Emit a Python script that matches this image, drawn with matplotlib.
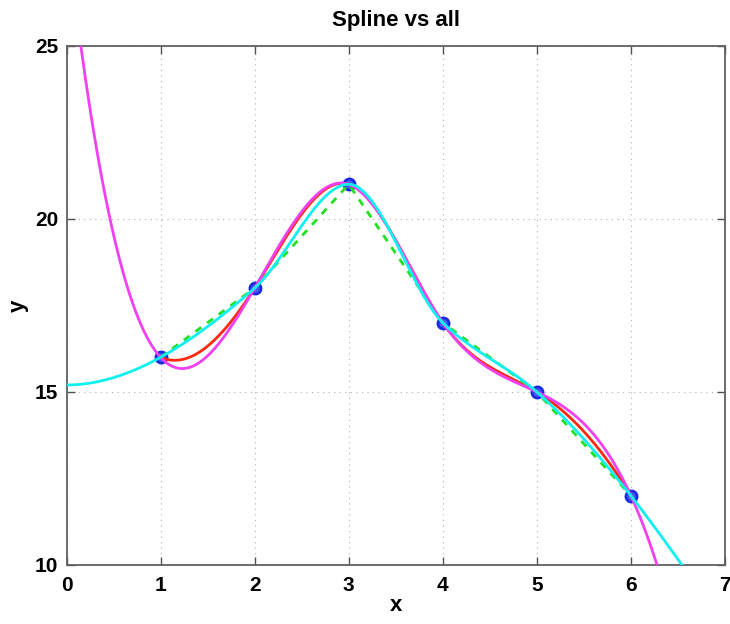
import matplotlib
matplotlib.use('Agg')
import matplotlib.pyplot as plt
import numpy as np

plt.rcParams['font.family'] = ['Liberation Sans', 'DejaVu Sans']

# data points
x_pts = [1, 2, 3, 4, 5, 6]
y_pts = [16, 18, 21, 17, 15, 12]

x = np.array(x_pts, dtype=float)
y = np.array(y_pts, dtype=float)


def cubic_spline(x, y, xq, ends='notaknot', slopes=None):
    # piecewise cubic, solved as one linear system
    n = len(x)
    m = n - 1
    A = np.zeros((4 * m, 4 * m))
    b = np.zeros(4 * m)
    r = 0
    for i in range(m):
        h = x[i + 1] - x[i]
        A[r, 4 * i] = 1; b[r] = y[i]; r += 1
        A[r, 4 * i:4 * i + 4] = [1, h, h ** 2, h ** 3]; b[r] = y[i + 1]; r += 1
    for i in range(m - 1):
        h = x[i + 1] - x[i]
        A[r, 4 * i:4 * i + 4] = [0, 1, 2 * h, 3 * h ** 2]; A[r, 4 * (i + 1) + 1] = -1; r += 1
        A[r, 4 * i:4 * i + 4] = [0, 0, 2, 6 * h]; A[r, 4 * (i + 1) + 2] = -2; r += 1
    if ends == 'notaknot':
        A[r, 3] = 1; A[r, 7] = -1; r += 1
        A[r, 4 * (m - 2) + 3] = 1; A[r, 4 * (m - 1) + 3] = -1; r += 1
    else:
        # clamped: given end slopes
        h = x[-1] - x[-2]
        A[r, 1] = 1; b[r] = slopes[0]; r += 1
        A[r, 4 * (m - 1):4 * m] = [0, 1, 2 * h, 3 * h ** 2]; b[r] = slopes[1]; r += 1
    c = np.linalg.solve(A, b).reshape(m, 4)
    idx = np.clip(np.searchsorted(x, xq) - 1, 0, m - 1)
    t = xq - x[idx]
    return c[idx, 0] + c[idx, 1] * t + c[idx, 2] * t ** 2 + c[idx, 3] * t ** 3


def pchip(x, y, xq):
    h = np.diff(x)
    d = np.diff(y) / h
    n = len(x)
    s = np.zeros(n)
    for k in range(1, n - 1):
        if d[k - 1] * d[k] > 0:
            w1 = 2 * h[k] + h[k - 1]
            w2 = h[k] + 2 * h[k - 1]
            s[k] = (w1 + w2) / (w1 / d[k - 1] + w2 / d[k])

    def endslope(h0, h1, d0, d1):
        v = ((2 * h0 + h1) * d0 - h0 * d1) / (h0 + h1)
        if np.sign(v) != np.sign(d0):
            v = 0
        elif np.sign(d0) != np.sign(d1) and abs(v) > abs(3 * d0):
            v = 3 * d0
        return v
    s[0] = endslope(h[0], h[1], d[0], d[1])
    s[-1] = endslope(h[-1], h[-2], d[-1], d[-2])
    idx = np.clip(np.searchsorted(x, xq) - 1, 0, n - 2)
    t = xq - x[idx]
    hh = h[idx]
    c2 = (3 * d[idx] - 2 * s[idx] - s[idx + 1]) / hh
    c3 = (s[idx] + s[idx + 1] - 2 * d[idx]) / hh ** 2
    return y[idx] + s[idx] * t + c2 * t ** 2 + c3 * t ** 3


# end slopes from the cubic through the 4 end points (Lagrange ends)
p_left = np.polyfit(x[:4], y[:4], 3)
p_right = np.polyfit(x[-4:], y[-4:], 3)
end_slopes = [np.polyval(np.polyder(p_left), x[0]),
              np.polyval(np.polyder(p_right), x[-1])]

xs_in = np.linspace(1, 6, 400)
xs_all = np.linspace(0, 7, 700)

y_csape = cubic_spline(x, y, xs_in, ends='clamped', slopes=end_slopes)
y_lin = np.interp(xs_in, x, y)
y_spl = cubic_spline(x, y, xs_all, ends='notaknot')
y_pchip = pchip(x, y, xs_all)

fig = plt.figure(figsize=(7.3, 6.24), dpi=100)
ax = fig.add_axes([0.0911, 0.0946, 0.902, 0.832])

ax.plot(x_pts, y_pts, 'o', ms=8, mfc='#4a5cf5', mec='#1a2ae0', mew=2, zorder=2)
ax.plot(xs_in, y_csape, color='#ff2a10', lw=2, zorder=3)
ax.plot(xs_in, y_lin, '--', color='#22e022', lw=2, dashes=(2.6, 2.6), zorder=3)
ax.plot(xs_all, y_spl, color='#f040f0', lw=2, zorder=4)
ax.plot(xs_all, y_pchip, color='#10f0f0', lw=2, zorder=5)

ax.set_xlim(0, 7)
ax.set_ylim(10, 25)
ax.set_xticks(range(0, 8))
ax.set_yticks([10, 15, 20, 25])
ax.grid(True, linestyle=(0, (1, 4)), color='#b0b0b0', lw=0.8)
ax.tick_params(direction='in', top=True, right=True, length=6, width=1,
               color='#505050', labelsize=15)
ax.tick_params(axis='x', pad=8)
ax.tick_params(axis='y', pad=6)
for lab in ax.get_xticklabels() + ax.get_yticklabels():
    lab.set_fontweight('bold')
for sp in ax.spines.values():
    sp.set_color('#606060')
    sp.set_linewidth(1.3)

ax.set_xlabel('x', fontsize=16, fontweight='bold', labelpad=0)
ax.set_ylabel('y', fontsize=16, fontweight='bold', labelpad=4)
ax.set_title('Spline vs all', fontsize=16, fontweight='bold', pad=14)

fig.savefig('out.png', dpi=100, facecolor='white')
plt.close()
